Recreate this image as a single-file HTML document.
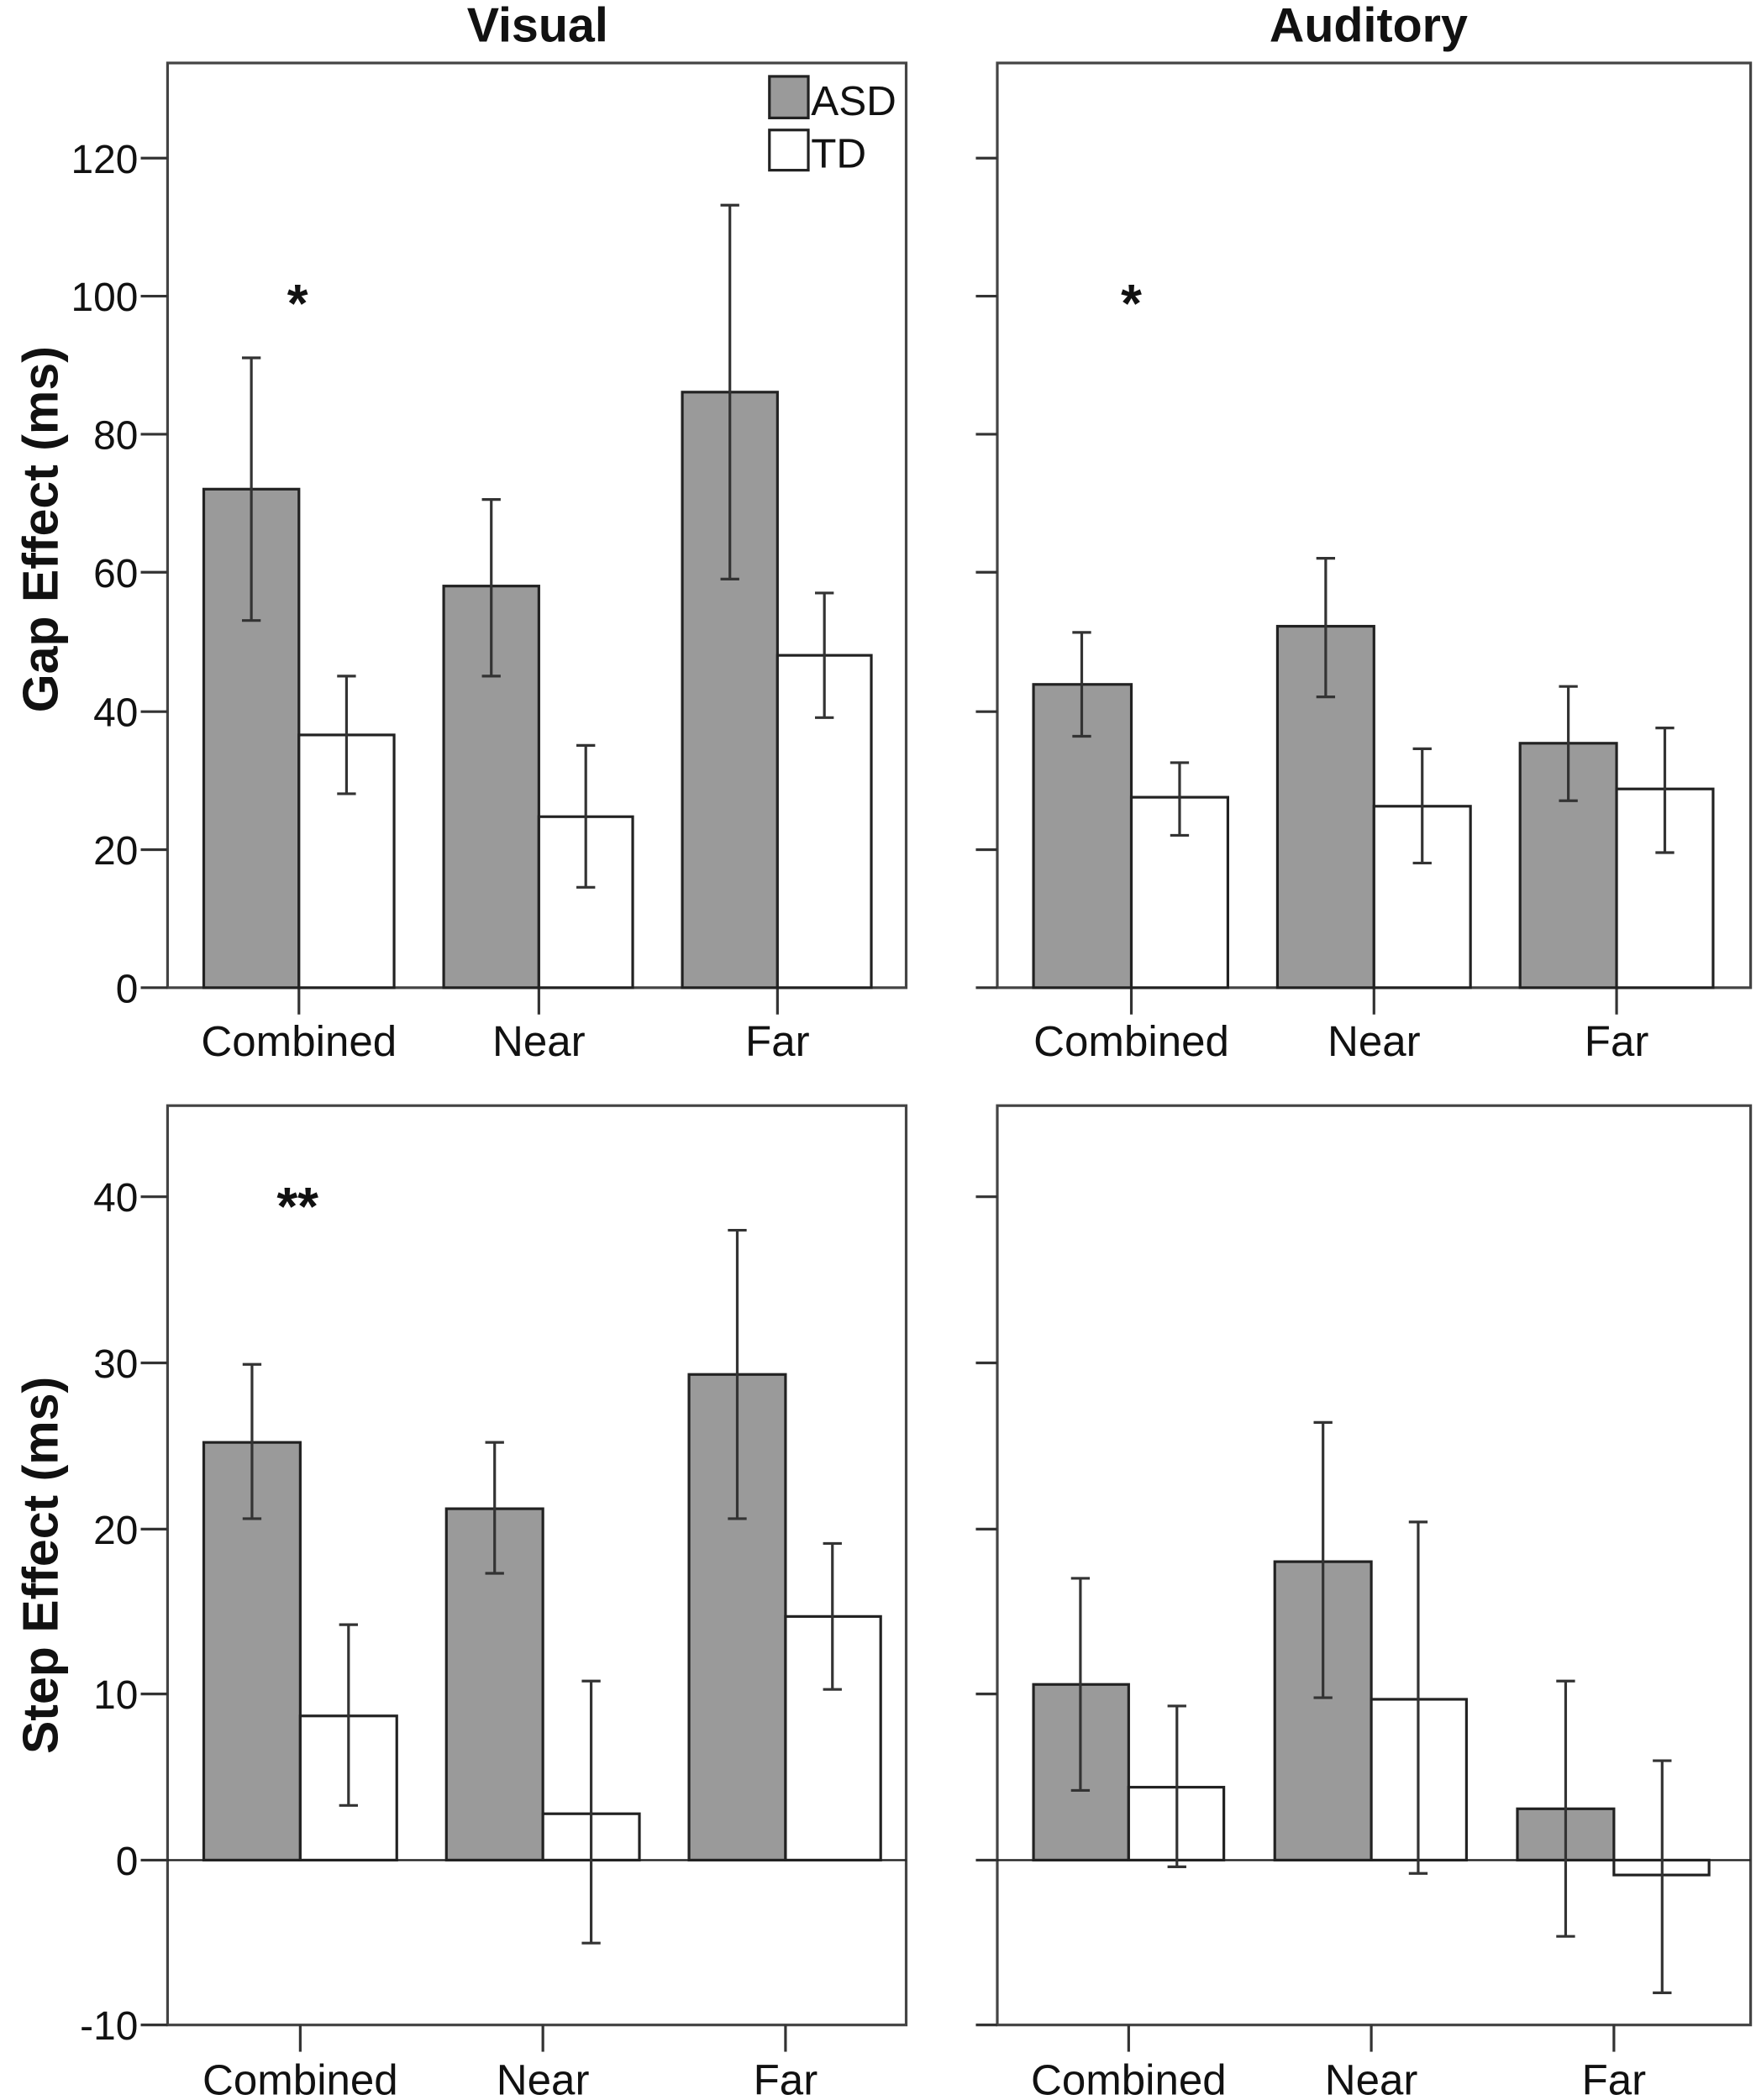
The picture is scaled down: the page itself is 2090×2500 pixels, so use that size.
<!DOCTYPE html>
<html><head><meta charset="utf-8"><style>html,body{margin:0;padding:0;background:#fff}svg{display:block}</style></head><body>
<svg width="2090" height="2500" viewBox="0 0 1310 1567" xmlns="http://www.w3.org/2000/svg" font-family="Liberation Sans, Arial, sans-serif">
<g fill="none" stroke="#444" stroke-width="2">
<rect x="125" y="47" width="551" height="690"/>
<rect x="744" y="47" width="562" height="690"/>
<rect x="125" y="825" width="551" height="686"/>
<rect x="744" y="825" width="562" height="686"/>
</g>
<g stroke="#333" stroke-width="2">
<line x1="105" y1="737" x2="125" y2="737"/><line x1="105" y1="634" x2="125" y2="634"/><line x1="105" y1="531" x2="125" y2="531"/><line x1="105" y1="427" x2="125" y2="427"/><line x1="105" y1="324" x2="125" y2="324"/><line x1="105" y1="221" x2="125" y2="221"/><line x1="105" y1="118" x2="125" y2="118"/>
<line x1="728" y1="737" x2="744" y2="737"/><line x1="728" y1="634" x2="744" y2="634"/><line x1="728" y1="531" x2="744" y2="531"/><line x1="728" y1="427" x2="744" y2="427"/><line x1="728" y1="324" x2="744" y2="324"/><line x1="728" y1="221" x2="744" y2="221"/><line x1="728" y1="118" x2="744" y2="118"/>
<line x1="105" y1="893" x2="125" y2="893"/><line x1="105" y1="1017" x2="125" y2="1017"/><line x1="105" y1="1141" x2="125" y2="1141"/><line x1="105" y1="1264" x2="125" y2="1264"/><line x1="105" y1="1388" x2="125" y2="1388"/><line x1="105" y1="1511" x2="125" y2="1511"/>
<line x1="728" y1="893" x2="744" y2="893"/><line x1="728" y1="1017" x2="744" y2="1017"/><line x1="728" y1="1141" x2="744" y2="1141"/><line x1="728" y1="1264" x2="744" y2="1264"/><line x1="728" y1="1388" x2="744" y2="1388"/><line x1="728" y1="1511" x2="744" y2="1511"/>
<line x1="223" y1="737" x2="223" y2="757"/><line x1="402" y1="737" x2="402" y2="757"/><line x1="580" y1="737" x2="580" y2="757"/>
<line x1="844" y1="737" x2="844" y2="757"/><line x1="1025" y1="737" x2="1025" y2="757"/><line x1="1206" y1="737" x2="1206" y2="757"/>
<line x1="224" y1="1511" x2="224" y2="1531"/><line x1="405" y1="1511" x2="405" y2="1531"/><line x1="586" y1="1511" x2="586" y2="1531"/>
<line x1="842" y1="1511" x2="842" y2="1531"/><line x1="1023" y1="1511" x2="1023" y2="1531"/><line x1="1204" y1="1511" x2="1204" y2="1531"/>
</g>
<g stroke="#222" stroke-width="2">
<rect x="152" y="365" width="71" height="372" fill="#9a9a9a"/>
<rect x="223" y="548.4" width="71" height="188.6" fill="#fff"/>
<rect x="331" y="437.3" width="71" height="299.7" fill="#9a9a9a"/>
<rect x="402" y="609.4" width="70" height="127.6" fill="#fff"/>
<rect x="509" y="292.6" width="71" height="444.4" fill="#9a9a9a"/>
<rect x="580" y="489" width="70" height="248" fill="#fff"/>
<rect x="771" y="510.7" width="73" height="226.3" fill="#9a9a9a"/>
<rect x="844" y="594.9" width="72" height="142.1" fill="#fff"/>
<rect x="953" y="467.3" width="72" height="269.7" fill="#9a9a9a"/>
<rect x="1025" y="601.6" width="72" height="135.4" fill="#fff"/>
<rect x="1134" y="554.6" width="72" height="182.4" fill="#9a9a9a"/>
<rect x="1206" y="588.7" width="72" height="148.3" fill="#fff"/>
<rect x="152" y="1076.3" width="72" height="311.7" fill="#9a9a9a"/>
<rect x="224" y="1280.4" width="72" height="107.6" fill="#fff"/>
<rect x="333" y="1125.8" width="72" height="262.2" fill="#9a9a9a"/>
<rect x="405" y="1353.4" width="72" height="34.6" fill="#fff"/>
<rect x="514" y="1025.6" width="72" height="362.4" fill="#9a9a9a"/>
<rect x="586" y="1206.2" width="71" height="181.8" fill="#fff"/>
<rect x="771" y="1256.9" width="71" height="131.1" fill="#9a9a9a"/>
<rect x="842" y="1333.6" width="71" height="54.4" fill="#fff"/>
<rect x="951" y="1165.3" width="72" height="222.7" fill="#9a9a9a"/>
<rect x="1023" y="1268" width="71" height="120" fill="#fff"/>
<rect x="1132" y="1349.7" width="72" height="38.3" fill="#9a9a9a"/>
<rect x="1204" y="1388" width="71" height="11.1" fill="#fff"/>
</g>
<g stroke="#222" stroke-width="1.5">
<line x1="125" y1="1388" x2="676" y2="1388"/>
<line x1="744" y1="1388" x2="1306" y2="1388"/>
</g>
<g stroke="#333" stroke-width="2" fill="none">
<path d="M187.5 463V267M180.5 463h14M180.5 267h14"/>
<path d="M258.5 592.3V504.5M251.5 592.3h14M251.5 504.5h14"/>
<path d="M366.5 504.5V372.7M359.5 504.5h14M359.5 372.7h14"/>
<path d="M437 662.1V556.2M430 662.1h14M430 556.2h14"/>
<path d="M544.5 432.1V153.1M537.5 432.1h14M537.5 153.1h14"/>
<path d="M615 535.5V442.5M608 535.5h14M608 442.5h14"/>
<path d="M807 549.4V471.9M800 549.4h14M800 471.9h14"/>
<path d="M880 623.3V569.1M873 623.3h14M873 569.1h14"/>
<path d="M989 520V416.6M982 520h14M982 416.6h14"/>
<path d="M1061 644V558.7M1054 644h14M1054 558.7h14"/>
<path d="M1170 597.5V512.2M1163 597.5h14M1163 512.2h14"/>
<path d="M1242 636.2V543.2M1235 636.2h14M1235 543.2h14"/>
<path d="M188 1133.2V1018.1M181 1133.2h14M181 1018.1h14"/>
<path d="M260 1347.2V1212.3M253 1347.2h14M253 1212.3h14"/>
<path d="M369 1174V1076.3M362 1174h14M362 1076.3h14"/>
<path d="M441 1449.9V1254.4M434 1449.9h14M434 1254.4h14"/>
<path d="M550 1133.2V918M543 1133.2h14M543 918h14"/>
<path d="M621 1260.6V1151.7M614 1260.6h14M614 1151.7h14"/>
<path d="M806 1336V1177.7M799 1336h14M799 1177.7h14"/>
<path d="M878 1393V1273M871 1393h14M871 1273h14"/>
<path d="M987 1266.8V1061.4M980 1266.8h14M980 1061.4h14"/>
<path d="M1058 1397.9V1135.7M1051 1397.9h14M1051 1135.7h14"/>
<path d="M1168 1444.9V1254.4M1161 1444.9h14M1161 1254.4h14"/>
<path d="M1240 1487V1313.8M1233 1487h14M1233 1313.8h14"/>
</g>
<rect x="574" y="57" width="29" height="31" fill="#9a9a9a" stroke="#222" stroke-width="2"/>
<rect x="574" y="97" width="29" height="30" fill="#fff" stroke="#222" stroke-width="2"/>
<g font-size="31" fill="#111">
<text x="605" y="86">ASD</text>
<text x="605" y="125">TD</text>
</g>
<g font-size="30" fill="#111" text-anchor="end">
<text x="103" y="748">0</text><text x="103" y="645">20</text><text x="103" y="542">40</text><text x="103" y="438">60</text><text x="103" y="335">80</text><text x="103" y="232">100</text><text x="103" y="129">120</text>
<text x="103" y="904">40</text><text x="103" y="1028">30</text><text x="103" y="1152">20</text><text x="103" y="1275">10</text><text x="103" y="1399">0</text><text x="103" y="1522">-10</text>
</g>
<g font-size="32" fill="#111" text-anchor="middle">
<text x="223" y="788">Combined</text><text x="402" y="788">Near</text><text x="580" y="788">Far</text>
<text x="844" y="788">Combined</text><text x="1025" y="788">Near</text><text x="1206" y="788">Far</text>
<text x="224" y="1563">Combined</text><text x="405" y="1563">Near</text><text x="586" y="1563">Far</text>
<text x="842" y="1563">Combined</text><text x="1023" y="1563">Near</text><text x="1204" y="1563">Far</text>
</g>
<g font-weight="bold" fill="#111" text-anchor="middle">
<text x="401" y="31" font-size="36">Visual</text>
<text x="1021" y="31" font-size="36">Auditory</text>
<text transform="translate(43,395) rotate(-90)" font-size="37">Gap Effect (ms)</text>
<text transform="translate(43,1168) rotate(-90)" font-size="37">Step Effect (ms)</text>
</g>
<g font-size="40" fill="#111" text-anchor="middle" font-weight="bold">
<text x="222" y="240">*</text>
<text x="844" y="240">*</text>
<text x="222" y="914">**</text>
</g>
</svg>
</body></html>
